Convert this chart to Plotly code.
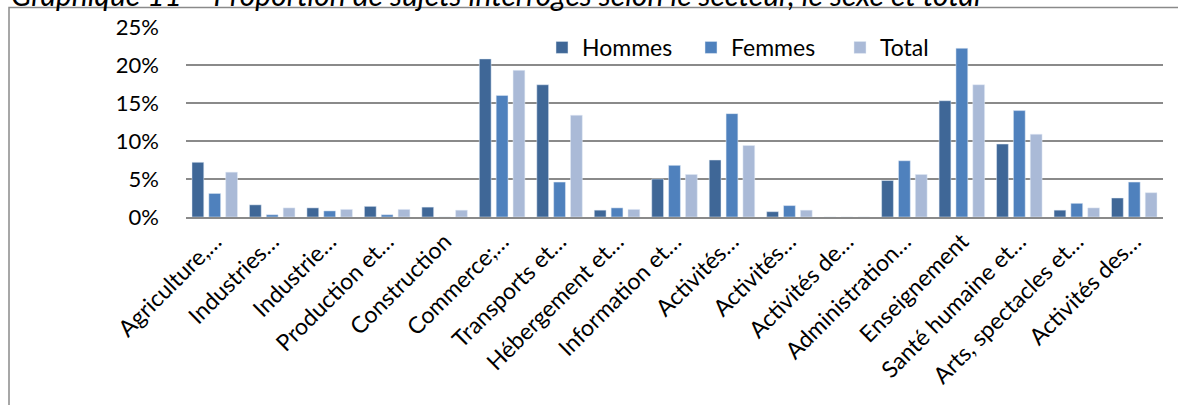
import plotly.graph_objects as go

# secteurs (libellés tronqués comme dans le graphique d'origine)
secteurs = ['Agriculture,…', 'Industries…', 'Industrie…', 'Production et…', 'Construction',
            'Commerce;…', 'Transports et…', 'Hébergement et…', 'Information et…', 'Activités…',
            'Activités…', 'Activités de…', 'Administration…', 'Enseignement', 'Santé humaine et…',
            'Arts, spectacles et…', 'Activités des…']

# proportions en %
hommes = [7.2, 1.6, 1.2, 1.4, 1.3, 20.8, 17.4, 0.9, 5.0, 7.5, 0.7, 0.0, 4.8, 15.3, 9.6, 0.9, 2.5]
femmes = [3.1, 0.3, 0.8, 0.3, 0.0, 16.0, 4.6, 1.2, 6.8, 13.6, 1.5, 0.0, 7.4, 22.2, 14.0, 1.8, 4.6]
total = [5.9, 1.2, 1.0, 1.0, 0.9, 19.3, 13.4, 1.0, 5.6, 9.4, 0.9, 0.0, 5.6, 17.4, 10.9, 1.2, 3.2]

ticks_y = [0, 5, 10, 15, 20, 25]
ticks_y_txt = [f'{v}%' for v in ticks_y]

# géométrie (pixels) de la zone de tracé
W, H = 1178, 405
L, R, T, B = 186, 15, 27, 188
pw, ph = W - L - R, H - T - B


def px(x):
    return (x - L) / pw


def py(y):
    return (H - B - y) / ph


police = 'Lato'
pos = list(range(len(secteurs)))

fig = go.Figure()
fig.add_trace(go.Bar(x=pos, y=hommes, name='Hommes', marker_color='#3F6797'))
fig.add_trace(go.Bar(x=pos, y=femmes, name='Femmes', marker_color='#4F81BD'))
fig.add_trace(go.Bar(x=pos, y=total, name='Total', marker_color='#AABAD7'))

fig.update_layout(
    width=W, height=H,
    margin=dict(l=L, r=R, t=T, b=B, autoexpand=False),
    paper_bgcolor='white', plot_bgcolor='white',
    font=dict(family=police, size=23, color='black'),
    barmode='group', bargap=0.12, bargroupgap=0.3,
    showlegend=True,
    legend=dict(orientation='h', x=px(542), y=py(47.5), xanchor='left', yanchor='middle',
                bgcolor='rgba(0,0,0,0)', font=dict(size=23), entrywidth=104,
                entrywidthmode='pixels', itemclick=False),
    xaxis=dict(tickmode='array', tickvals=pos, ticktext=secteurs,
               tickangle=-45, showgrid=False, ticks='', showline=True,
               linecolor='#8a8a8a', linewidth=2, range=[-0.5, len(secteurs) - 0.5],
               tickfont=dict(size=23)),
    yaxis=dict(range=[0, 25], tickmode='array', tickvals=ticks_y, ticktext=ticks_y_txt,
               showgrid=True, gridcolor='#8a8a8a', gridwidth=1.5, zeroline=False,
               ticks='', tickfont=dict(size=22), ticklabelstandoff=26),
)

# cadre du graphique
fig.add_shape(type='rect', xref='paper', yref='paper',
              x0=px(9), x1=px(W + 10), y0=py(H + 10), y1=py(7.5),
              line=dict(color='#8a8a8a', width=1.5), layer='below')

# titre coupé en haut de l'image
fig.add_annotation(text='<i>Graphique 11 – Proportion de sujets interrogés selon le secteur, le sexe et total</i>',
                   xref='paper', yref='paper', x=px(9), y=py(-6), xanchor='left', yanchor='middle',
                   showarrow=False, font=dict(size=30))

fig.write_html('out.html', config={'displayModeBar': False},
               post_script="document.body.style.margin='0';")
